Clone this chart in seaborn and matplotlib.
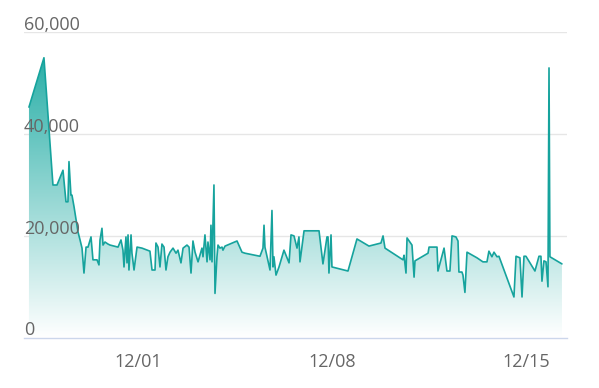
import matplotlib
matplotlib.use("Agg")
import matplotlib.pyplot as plt
import matplotlib.dates as mdates
import matplotlib.transforms as mtransforms
from matplotlib.colors import LinearSegmentedColormap
import numpy as np
import pandas as pd
import seaborn as sns

# ---------------- data ----------------
times = [
    "2024-11-27 01:12", "2024-11-27 14:12", "2024-11-27 22:00", "2024-11-28 01:30", "2024-11-28 06:42",
    "2024-11-28 09:18", "2024-11-28 11:00", "2024-11-28 11:54", "2024-11-28 13:36", "2024-11-28 14:30",
    "2024-11-28 16:18", "2024-11-28 19:42", "2024-11-28 21:30", "2024-11-28 23:12", "2024-11-29 00:54",
    "2024-11-29 02:42", "2024-11-29 04:24", "2024-11-29 07:00", "2024-11-29 08:42", "2024-11-29 12:12",
    "2024-11-29 13:54", "2024-11-29 14:48", "2024-11-29 16:30", "2024-11-29 17:24", "2024-11-29 19:06",
    "2024-11-29 21:42", "2024-11-29 23:30", "2024-11-30 06:24", "2024-11-30 09:00", "2024-11-30 10:42",
    "2024-11-30 11:36", "2024-11-30 13:18", "2024-11-30 14:12", "2024-11-30 15:06", "2024-11-30 15:54",
    "2024-11-30 17:42", "2024-11-30 18:30", "2024-11-30 20:18", "2024-11-30 22:54", "2024-12-01 03:12",
    "2024-12-01 10:06", "2024-12-01 11:54", "2024-12-01 14:30", "2024-12-01 15:18", "2024-12-01 17:06",
    "2024-12-01 18:48", "2024-12-01 20:30", "2024-12-01 22:18", "2024-12-02 00:00", "2024-12-02 01:42",
    "2024-12-02 03:30", "2024-12-02 06:06", "2024-12-02 08:42", "2024-12-02 10:24", "2024-12-02 13:00",
    "2024-12-02 14:48", "2024-12-02 18:12", "2024-12-02 20:00", "2024-12-02 21:42", "2024-12-02 23:24",
    "2024-12-03 01:12", "2024-12-03 03:48", "2024-12-03 07:12", "2024-12-03 08:06", "2024-12-03 09:48",
    "2024-12-03 11:36", "2024-12-03 12:24", "2024-12-03 14:12", "2024-12-03 15:00", "2024-12-03 15:54",
    "2024-12-03 17:36", "2024-12-03 18:30", "2024-12-03 20:12", "2024-12-03 21:06", "2024-12-03 22:48",
    "2024-12-04 00:36", "2024-12-04 01:24", "2024-12-04 03:12", "2024-12-04 13:36", "2024-12-04 17:54",
    "2024-12-04 20:30", "2024-12-05 09:30", "2024-12-05 12:06", "2024-12-05 13:00", "2024-12-05 13:48",
    "2024-12-05 18:12", "2024-12-05 19:54", "2024-12-05 20:48", "2024-12-05 21:36", "2024-12-05 23:24",
    "2024-12-06 02:00", "2024-12-06 06:18", "2024-12-06 10:42", "2024-12-06 12:24", "2024-12-06 15:00",
    "2024-12-06 17:36", "2024-12-06 19:18", "2024-12-06 20:12", "2024-12-06 23:42", "2024-12-07 12:42",
    "2024-12-07 16:06", "2024-12-07 19:36", "2024-12-07 20:30", "2024-12-07 21:18", "2024-12-07 23:06",
    "2024-12-07 23:54", "2024-12-08 13:48", "2024-12-08 21:36", "2024-12-09 08:00", "2024-12-09 18:24",
    "2024-12-09 20:12", "2024-12-09 21:54", "2024-12-10 13:30", "2024-12-10 14:24", "2024-12-10 16:06",
    "2024-12-10 17:00", "2024-12-10 21:18", "2024-12-10 23:06", "2024-12-10 23:54", "2024-12-11 11:12",
    "2024-12-11 12:06", "2024-12-11 19:00", "2024-12-11 19:48", "2024-12-12 01:06", "2024-12-12 03:36",
    "2024-12-12 06:12", "2024-12-12 08:00", "2024-12-12 11:24", "2024-12-12 13:12", "2024-12-12 14:00",
    "2024-12-12 16:36", "2024-12-12 17:30", "2024-12-12 19:12", "2024-12-12 21:00", "2024-12-13 05:36",
    "2024-12-13 10:48", "2024-12-13 14:18", "2024-12-13 16:00", "2024-12-13 18:36", "2024-12-13 20:24",
    "2024-12-13 23:00", "2024-12-14 00:42", "2024-12-14 13:42", "2024-12-14 15:30", "2024-12-14 18:54",
    "2024-12-14 20:42", "2024-12-14 22:24", "2024-12-15 00:06", "2024-12-15 07:54", "2024-12-15 11:24",
    "2024-12-15 13:06", "2024-12-15 14:00", "2024-12-15 15:42", "2024-12-15 17:30", "2024-12-15 19:12",
    "2024-12-15 20:06", "2024-12-15 20:54", "2024-12-16 07:18",
]
values = [
    45300, 55000, 30000, 30000, 32900, 26700, 26700, 34600, 28000, 28000,
    25700, 20800, 19200, 17600, 12700, 17800, 17800, 19800, 15300, 15300,
    14300, 19200, 21500, 18200, 18800, 18400, 18200, 17800, 19200, 17200,
    13900, 19800, 14700, 20200, 13300, 20200, 16600, 13300, 17800, 17600,
    17000, 13300, 13300, 18600, 17800, 13900, 18400, 17800, 13300, 15900,
    16800, 17600, 16600, 17200, 14700, 17600, 18200, 17800, 12700, 19000,
    16800, 14900, 17600, 15900, 20200, 14900, 18800, 15300, 22100, 14900,
    30000, 8700, 15900, 18200, 17600, 17800, 17200, 18000, 19000, 16800,
    16600, 16000, 17600, 22100, 17800, 13300, 25000, 13900, 15900, 12300,
    13900, 17200, 14700, 20200, 20000, 17600, 19800, 14900, 21000, 21000,
    14500, 19800, 19800, 12700, 20200, 13900, 13100, 19400, 18000, 18600,
    20000, 17600, 15300, 16200, 12700, 19600, 18200, 11900, 15100, 16600,
    17800, 17800, 13100, 17600, 13100, 13100, 20000, 19800, 19000, 12900,
    12900, 12300, 8900, 16800, 15700, 14900, 14900, 17000, 15900, 16800,
    15900, 16000, 8000, 16000, 15700, 8000, 16000, 16000, 13100, 16000,
    16000, 11100, 15100, 14900, 10000, 53000, 15900, 14500,
]
n = min(len(times), len(values))
times, values = times[:n], values[:n]

y_ticks = [0, 20000, 40000, 60000]
y_tick_labels = ["0", "20,000", "40,000", "60,000"]
x_ticks = ["2024-12-01", "2024-12-08", "2024-12-15"]
x_tick_labels = ["12/01", "12/08", "12/15"]
x_range = ["2024-11-26 20:54", "2024-12-16 11:42"]

# ---------------- styling ----------------
LINE = "#16a39d"
FILL_TOP = "#17a8a0"
TEXT = "#666666"
GRID = "#e6e6e6"
AXIS = "#ccd6eb"

df = pd.DataFrame({"time": pd.to_datetime(times), "value": values})

sns.set_style("white")
plt.rcParams["font.family"] = ["Open Sans", "DejaVu Sans"]

W, H = 599, 388
fig = plt.figure(figsize=(W / 100, H / 100), dpi=100)
ax = fig.add_axes([24 / W, (H - 337.7) / H, 543 / W, (337.7 - 32.3) / H])

xmin, xmax = pd.to_datetime(x_range)
ax.set_xlim(xmin, xmax)
ax.set_ylim(0, 60000)

# gradient area fill clipped to the area under the line
poly = ax.fill_between(df["time"], df["value"], 0, color="none", lw=0)
grad = np.linspace(0, 1, 256).reshape(-1, 1)
cmap = LinearSegmentedColormap.from_list("g", ["#ffffff", FILL_TOP])
im = ax.imshow(grad, cmap=cmap, origin="lower", aspect="auto",
               extent=[mdates.date2num(xmin), mdates.date2num(xmax), 0, 60000],
               zorder=1, vmin=0, vmax=1)
im.set_clip_path(poly.get_paths()[0], transform=ax.transData)
ax.set_xlim(xmin, xmax)
ax.set_ylim(0, 60000)

sns.lineplot(data=df, x="time", y="value", ax=ax, color=LINE, lw=1.2, zorder=3)

# grid lines
for v in y_ticks[1:]:
    ax.axhline(v, color=GRID, lw=1, zorder=0)

for s in ["left", "right", "top"]:
    ax.spines[s].set_visible(False)
ax.spines["bottom"].set_color(AXIS)
ax.spines["bottom"].set_linewidth(1)
ax.spines["bottom"].set_zorder(4)

ax.set_yticks([])
ax.set_xticks(pd.to_datetime(x_ticks))
ax.set_xticklabels(x_tick_labels)
ax.tick_params(axis="x", length=10, width=1, color=AXIS, labelcolor=TEXT,
               labelsize=13, pad=1)
ax.set_xlabel("")
ax.set_ylabel("")

# y labels sitting above grid lines
for v, lab in zip(y_ticks, y_tick_labels):
    ax.annotate(lab, xy=(0, v), xycoords=("axes fraction", "data"),
                xytext=(0, 1.6), textcoords="offset points",
                ha="left", va="baseline", color=TEXT, fontsize=13, zorder=5)

fig.savefig("out.png", dpi=100, facecolor="white")
